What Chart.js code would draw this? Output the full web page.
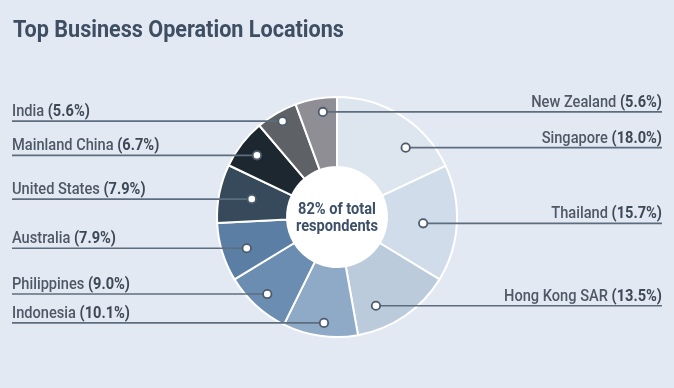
<!DOCTYPE html>
<html>
<head>
<meta charset="utf-8">
<script src="https://cdn.jsdelivr.net/npm/chart.js@4.4.1/dist/chart.umd.min.js"></script>
<style>
  html, body { margin: 0; padding: 0; background: #e3e9f2; }
  #wrap { width: 674px; height: 388px; position: relative; }
</style>
</head>
<body>
<div id="wrap"><canvas id="pie"></canvas></div>
<script>
"use strict";

// Top business operation locations, share of respondents (%), clockwise from 12 o'clock.
const TITLE = "Top Business Operation Locations";
const CENTER_TEXT = ["82% of total", "respondents"];
const locations = ["Singapore", "Thailand", "Hong Kong SAR", "Indonesia", "Philippines",
                   "Australia", "United States", "Mainland China", "India", "New Zealand"];
const shares = [18.0, 15.7, 13.5, 10.1, 9.0, 7.9, 7.9, 6.7, 5.6, 5.6];
const sliceColors = ["#dde5ef", "#d0dcea", "#bccbdb", "#8eaac7", "#6c8db2",
                     "#5b7fa4", "#364a5c", "#1d272f", "#5e6166", "#8f8e94"];

// ---------- drawing helpers ----------
const FONT = "Roboto, 'DejaVu Sans', sans-serif";

// no condensed face installed: squeeze Roboto horizontally by sx
function squeezedWidth(ctx, parts, sx) {
  let w = 0;
  parts.forEach(p => { ctx.font = p.font; w += ctx.measureText(p.text).width; });
  return w * sx;
}
function drawParts(ctx, parts, x, y, align, sx) {
  const w = squeezedWidth(ctx, parts, sx);
  const left = align === "right" ? x - w : align === "center" ? x - w / 2 : x;
  ctx.save();
  ctx.translate(left, y);
  ctx.scale(sx, 1);
  ctx.textBaseline = "alphabetic";
  ctx.textAlign = "left";
  let cx = 0;
  parts.forEach(p => {
    ctx.font = p.font; ctx.fillStyle = p.color;
    ctx.fillText(p.text, cx, 0);
    cx += ctx.measureText(p.text).width;
  });
  ctx.restore();
}

// hole, title, centre text, leader lines with dots and labels
const callouts = {
  id: "callouts",
  beforeDatasetsDraw(chart) {
    const ctx = chart.ctx;
    const arc = chart.getDatasetMeta(0).data[0];
    ctx.save();
    ctx.fillStyle = "#ffffff";
    ctx.beginPath();
    ctx.arc(arc.x, arc.y, arc.innerRadius + 1, 0, Math.PI * 2);
    ctx.fill();
    ctx.restore();
  },
  afterDatasetsDraw(chart, args, opts) {
    const ctx = chart.ctx;
    const meta = chart.getDatasetMeta(0);
    const W = chart.width;

    drawParts(ctx, [{ text: TITLE, font: `bold 24px ${FONT}`, color: "#3f4f63" }], 13, 37, "left", 0.9);

    const c0 = meta.data[0];
    CENTER_TEXT.forEach((t, i) => {
      drawParts(ctx, [{ text: t, font: `bold 17px ${FONT}`, color: "#3d5068" }],
        c0.x, c0.y - 3 + i * 17, "center", 0.86);
    });

    meta.data.forEach((el, i) => {
      const p = el.getProps(["x", "y", "startAngle", "endAngle", "innerRadius", "outerRadius"], true);
      const t = opts.along[i], rf = opts.radial[i];
      const a = p.startAngle + (p.endAngle - p.startAngle) * t;
      const r = p.innerRadius + (p.outerRadius - p.innerRadius) * rf;
      const dx = p.x + Math.cos(a) * r, dy = p.y + Math.sin(a) * r;
      const right = opts.side[i] === "R";
      const x0 = right ? dx : opts.margin, x1 = right ? W - opts.margin : dx;

      ctx.save();
      ctx.strokeStyle = "#5d6d7e";
      ctx.lineWidth = 1.7;
      ctx.beginPath();
      ctx.moveTo(x0, dy); ctx.lineTo(x1, dy);
      ctx.stroke();
      ctx.fillStyle = "#ffffff";
      ctx.lineWidth = 1.8;
      ctx.strokeStyle = "#4c5b6b";
      ctx.beginPath();
      ctx.arc(dx, dy, 4.2, 0, Math.PI * 2);
      ctx.fill(); ctx.stroke();
      ctx.restore();

      const parts = [
        { text: locations[i] + " ", font: `500 17px ${FONT}`, color: "#4e5866" },
        { text: `(${shares[i].toFixed(1)}%)`, font: `bold 17px ${FONT}`, color: "#3e4957" },
      ];
      drawParts(ctx, parts, right ? W - opts.margin : opts.margin, dy - 5,
        right ? "right" : "left", 0.86);
    });
  }
};

new Chart(document.getElementById("pie"), {
  type: "doughnut",
  data: {
    labels: locations,
    datasets: [{
      data: shares,
      backgroundColor: sliceColors,
      borderColor: "#ffffff",
      borderWidth: 2,
    }]
  },
  options: {
    responsive: true, maintainAspectRatio: false, animation: false,
    cutout: 50,
    layout: { padding: { top: 96, bottom: 50, left: 0, right: 0 } },
    plugins: {
      legend: { display: false },
      tooltip: { enabled: false },
      callouts: {
        margin: 12,
        side:   ["R", "R", "R", "L", "L", "L", "L", "L", "L", "R"],
        along:  [0.69, 0.52, 0.72, 0.47, 0.49, 0.43, 0.52, 0.5, 0.53, 0.62],
        radial: [0.68, 0.52, 0.67, 0.81, 0.77, 0.65, 0.53, 0.73, 0.86, 0.8],
      },
    },
  },
  plugins: [callouts],
});
</script>
</body>
</html>
